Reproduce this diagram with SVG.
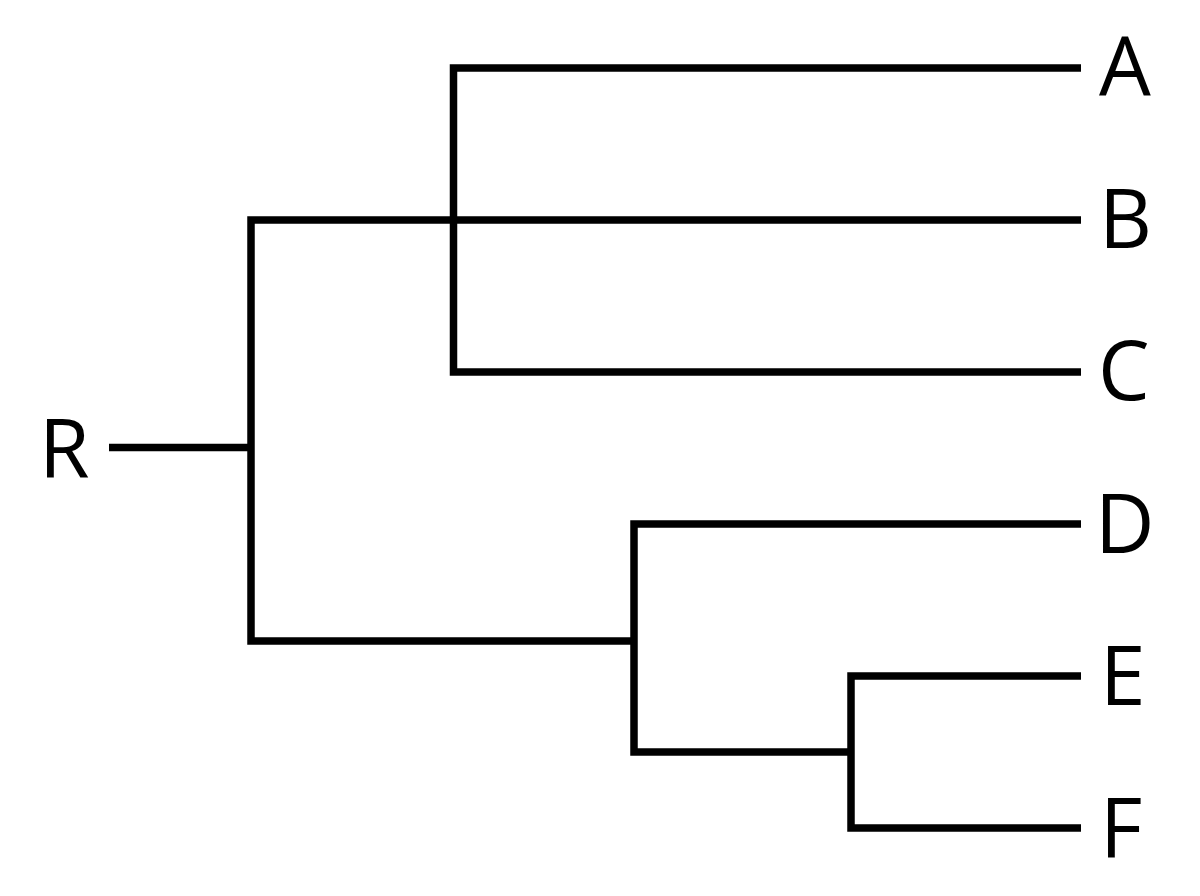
<svg xmlns="http://www.w3.org/2000/svg" width="1200" height="896" viewBox="0 0 1200 896">
<style>
.e{fill:none;stroke:#000;stroke-width:7.5;stroke-linejoin:miter;stroke-linecap:butt}
.t{font-family:"Open Sans","Liberation Sans",sans-serif;font-size:82px;fill:#000}
</style>
<rect width="1200" height="896" fill="#fff"/>
<g id="connectors">
<path class="e" d="M109,447.5H251"/>
<path class="e" d="M1081,220H251V641H634"/>
<path class="e" d="M1081,68H453.5V372H1081"/>
<path class="e" d="M1081,524H634V752H851"/>
<path class="e" d="M1081,676H851V828H1081"/>
</g>
<g id="node-R"><text class="t" x="39" y="478">R</text></g>
<g id="node-A"><text class="t" x="1099" y="96">A</text></g>
<g id="node-B"><text class="t" x="1099" y="248">B</text></g>
<g id="node-C"><text class="t" x="1098" y="400">C</text></g>
<g id="node-D"><text class="t" x="1095" y="553">D</text></g>
<g id="node-E"><text class="t" x="1100" y="705">E</text></g>
<g id="node-F"><text class="t" x="1100" y="857">F</text></g>
</svg>
